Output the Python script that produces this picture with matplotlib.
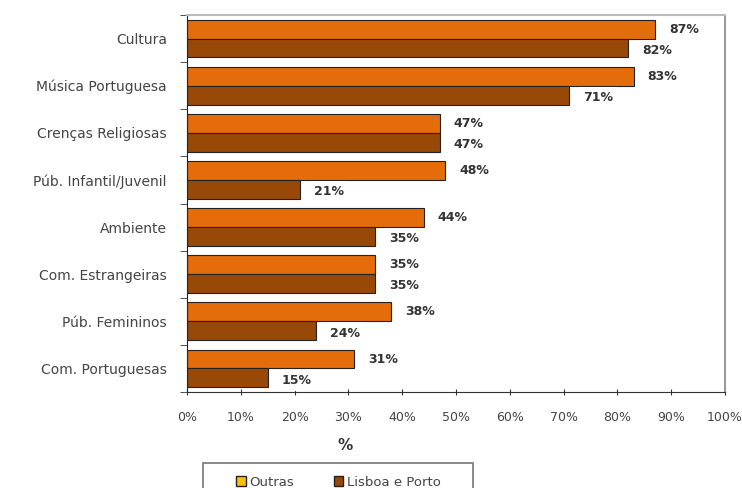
import matplotlib
matplotlib.use('Agg')
import matplotlib.pyplot as plt
import numpy as np
from matplotlib.patches import Patch, Rectangle

categories = ['Cultura', 'Música Portuguesa', 'Crenças Religiosas', 'Púb. Infantil/Juvenil',
              'Ambiente', 'Com. Estrangeiras', 'Púb. Femininos', 'Com. Portuguesas']
outras = [87, 83, 47, 48, 44, 35, 38, 31]
lisboa_porto = [82, 71, 47, 21, 35, 35, 24, 15]
xticks = list(range(0, 101, 10))

orange = '#E46C0A'
brown = '#984807'
text_col = '#444444'

plt.rcParams['font.family'] = ['DejaVu Sans']

fig = plt.figure(figsize=(7.42, 4.88), dpi=100)
ax = fig.add_axes([187 / 742, 1 - 392 / 488, 538 / 742, 377 / 488])

y = np.arange(len(categories))
h = 0.4
ax.barh(y - h / 2, outras, height=h, color=orange, edgecolor='#222222', linewidth=0.8, zorder=2)
ax.barh(y + h / 2, lisboa_porto, height=h, color=brown, edgecolor='#222222', linewidth=0.8, zorder=2)

for yi, v in zip(y, outras):
    ax.text(v + 2.6, yi - h / 2, f'{v}%', va='center', ha='left', fontsize=9,
            fontweight='bold', color='#333333', zorder=5)
for yi, v in zip(y, lisboa_porto):
    ax.text(v + 2.6, yi + h / 2 + 0.05, f'{v}%', va='center', ha='left', fontsize=9,
            fontweight='bold', color='#333333', zorder=5, clip_on=False,
            bbox=dict(facecolor='white', edgecolor='none', pad=3))

ax.set_ylim(len(categories) - 0.5, -0.5)
ax.set_xlim(0, 100)
ax.set_yticks(y)
ax.set_yticklabels(categories, fontsize=10, color=text_col)
ax.tick_params(axis='y', length=0, pad=14.5)
ax.set_yticks(np.arange(-0.5, len(categories) + 0.5, 1), minor=True)
ax.tick_params(axis='y', which='minor', length=5, color='#333333', direction='out')

ax.set_xticks(xticks)
ax.set_xticklabels([f'{t}%' for t in xticks], fontsize=9, color=text_col)
ax.tick_params(axis='x', length=4, direction='inout', color='#333333', pad=12)
ax.set_xlabel('%', fontsize=11, fontweight='bold', color='#333333')
ax.xaxis.set_label_coords(0.294, -0.122)

ax.spines['left'].set_color('#222222')
ax.spines['bottom'].set_color('#333333')
ax.spines['top'].set_color('#bbbbbb')
ax.spines['right'].set_color('#999999')
ax.spines['right'].set_linewidth(1.5)
ax.spines['top'].set_linewidth(1.5)

# legend: frame drawn separately, cut off by the figure's lower edge
fig.add_artist(Rectangle((203 / 742, -0.05), 270 / 742, (1 - 463 / 488) + 0.05,
                         transform=fig.transFigure, fill=False,
                         edgecolor='#777777', linewidth=1.2))
handles = [Patch(facecolor='#FFC000', edgecolor='#222222'),
           Patch(facecolor=brown, edgecolor='#222222')]
leg = fig.legend(handles, ['Outras', 'Lisboa e Porto'], loc='center left',
                 bbox_to_anchor=(236 / 742, 1 - 482 / 488), ncol=2, fontsize=9.5,
                 frameon=False, handlelength=0.75, handleheight=0.75, handletextpad=0.25,
                 columnspacing=3.0, borderpad=0, borderaxespad=0)
for t in leg.get_texts():
    t.set_color(text_col)

fig.savefig('out.png', dpi=100)
